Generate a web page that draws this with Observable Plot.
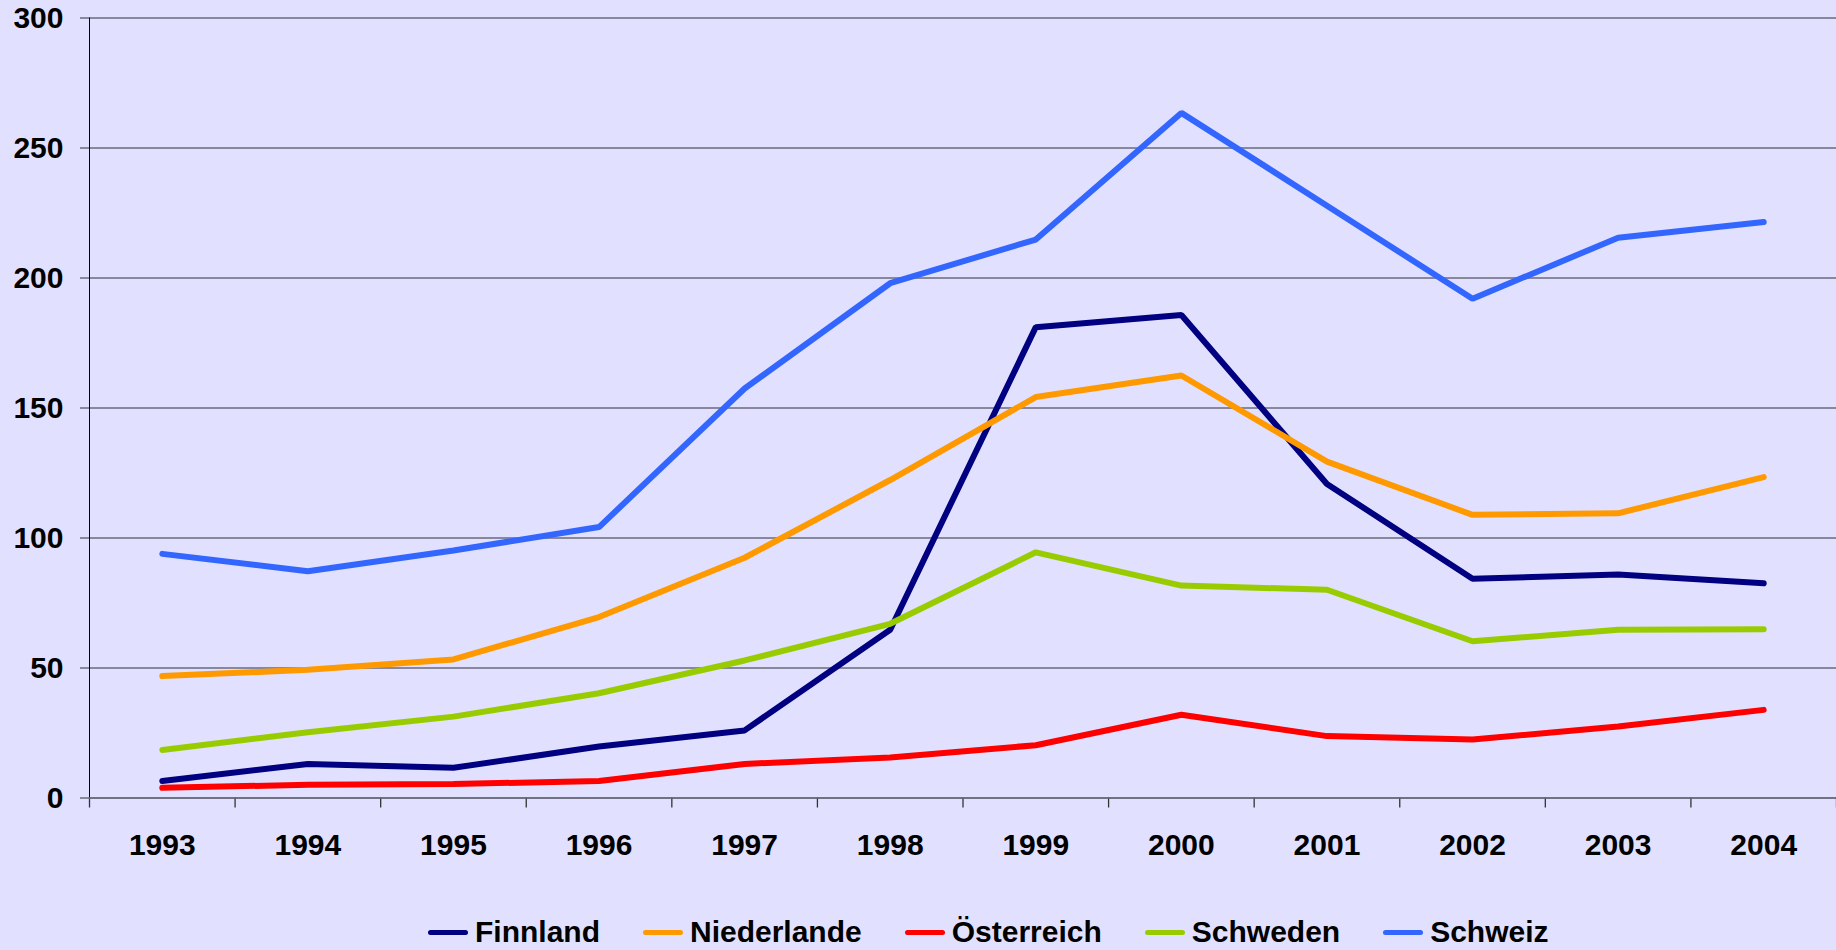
<!DOCTYPE html>
<html>
<head>
<meta charset="utf-8">
<script src="https://cdn.jsdelivr.net/npm/d3@7"></script>
<script src="https://cdn.jsdelivr.net/npm/@observablehq/plot@0.6"></script>
<style>
  html, body { margin: 0; padding: 0; background: #E1E1FF; width: 1836px; height: 950px; overflow: hidden; }
  body { font-family: "Liberation Sans", Arial, sans-serif; font-weight: bold; position: relative; }
  #legend { position: absolute; top: 917px; left: 0; display: flex; align-items: center; padding-left: 428px; }
  .item { display: flex; align-items: center; margin-right: 43px; font-size: 30px; color: #000; line-height: 1; height: 30px; }
  .sw { width: 40px; height: 5px; border-radius: 3px; margin-right: 7px; }
</style>
</head>
<body>
<div id="chart"></div>
<div id="legend"></div>
<script>
const years = [1993, 1994, 1995, 1996, 1997, 1998, 1999, 2000, 2001, 2002, 2003, 2004];
const seriesNames = ["Finnland", "Niederlande", "Österreich", "Schweden", "Schweiz"];
const seriesColors = ["#000080", "#FF9900", "#FF0000", "#99CC00", "#3366FF"];
const finnland    = [6.5, 13.1, 11.6, 19.8, 26.0, 64.7, 181.1, 185.8, 120.8, 84.3, 86.0, 82.6];
const niederlande = [46.9, 49.3, 53.3, 69.6, 92.4, 122.3, 154.2, 162.5, 129.4, 108.9, 109.5, 123.4];
const oesterreich = [3.9, 5.1, 5.4, 6.5, 13.1, 15.6, 20.3, 32.0, 23.8, 22.5, 27.5, 33.9];
const schweden    = [18.5, 25.3, 31.3, 40.3, 52.9, 67.0, 94.5, 81.7, 80.1, 60.3, 64.7, 64.9];
const schweiz     = [93.9, 87.2, 95.2, 104.2, 157.5, 198.0, 214.8, 263.5, 227.8, 192.0, 215.5, 221.5];
const yTicks = [0, 50, 100, 150, 200, 250, 300];

const seriesValues = [finnland, niederlande, oesterreich, schweden, schweiz];
const rows = [];
seriesNames.forEach((name, i) => {
  years.forEach((yr, j) => rows.push({series: name, year: yr, value: seriesValues[i][j]}));
});
const boundaries = years.map(y => y - 0.5).concat([years[years.length - 1] + 0.5]);
const xDomain = [years[0] - 0.5, years[years.length - 1] + 0.5];

const gridColor = "#6A6A7C";
const chart = Plot.plot({
  width: 1836,
  height: 880,
  marginTop: 17.5,
  marginBottom: 82.5,
  marginLeft: 89,
  marginRight: 0,
  style: {background: "transparent", fontFamily: "'Liberation Sans', Arial, sans-serif", fontSize: "30px", fontWeight: "bold", overflow: "visible"},
  x: {type: "linear", domain: xDomain},
  y: {domain: [0, 300]},
  color: {domain: seriesNames, range: seriesColors},
  marks: [
    Plot.gridY(yTicks, {stroke: gridColor, strokeOpacity: 1, strokeWidth: 1.5}),
    Plot.axisY({ticks: yTicks, tickSize: 9, tickPadding: 17, stroke: gridColor, strokeWidth: 1.5, fontSize: 30, fontWeight: "bold", fill: "#000", label: null, tickFormat: d => String(d)}),
    Plot.axisX({ticks: boundaries, tickSize: 10, tickFormat: () => "", stroke: "#333", strokeWidth: 1.3, label: null}),
    Plot.axisX({ticks: years, tickSize: 0, tickPadding: 36, fontSize: 30, fontWeight: "bold", fill: "#000", label: null, tickFormat: d => String(d)}),
    Plot.ruleX([xDomain[0]], {stroke: "#000", strokeWidth: 1}),
    Plot.ruleY([0], {stroke: gridColor, strokeWidth: 1.5}),
    Plot.line(rows, {x: "year", y: "value", z: "series", stroke: "series", strokeWidth: 6, strokeLinecap: "round", strokeLinejoin: "miter"})
  ]
});
document.getElementById("chart").appendChild(chart);

const legend = document.getElementById("legend");
seriesNames.forEach((name, i) => {
  const item = document.createElement("div");
  item.className = "item";
  const sw = document.createElement("div");
  sw.className = "sw";
  sw.style.background = seriesColors[i];
  const t = document.createElement("span");
  t.textContent = name;
  item.appendChild(sw);
  item.appendChild(t);
  legend.appendChild(item);
});
</script>
</body>
</html>
